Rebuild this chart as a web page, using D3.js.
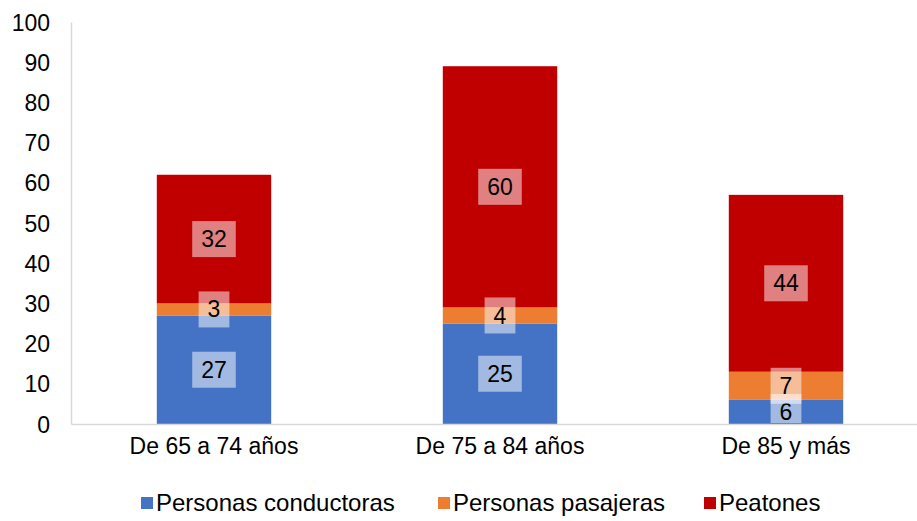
<!DOCTYPE html>
<html>
<head>
<meta charset="utf-8">
<script src="https://cdn.jsdelivr.net/npm/d3@7"></script>
<style>
  body { margin: 0; background: #fff; }
  text { font-family: "Liberation Sans", Arial, sans-serif; fill: #000; }
</style>
</head>
<body>
<svg id="chart" width="917" height="521"></svg>
<script>
var categories = ["De 65 a 74 años", "De 75 a 84 años", "De 85 y más"]
var seriesNames = ["Personas conductoras", "Personas pasajeras", "Peatones"]
var conductoras = [27, 25, 6]
var pasajeras = [3, 4, 7]
var peatones = [32, 60, 44]
var yTicks = [0, 10, 20, 30, 40, 50, 60, 70, 80, 90, 100]
var colors = ["#4472C4", "#ED7D31", "#C00000"]

var svg = d3.select("#chart"),
    plotLeft = 71, plotRight = 929, plotTop = 22, plotBottom = 424

var x = d3.scaleBand().domain(categories).range([plotLeft, plotRight]).padding(0)
var y = d3.scaleLinear().domain([0, 100]).range([plotBottom, plotTop])
var barW = x.bandwidth() * 0.4

var rows = categories.map(function(c, i){
  return { cat: c, "Personas conductoras": conductoras[i], "Personas pasajeras": pasajeras[i], "Peatones": peatones[i] }
})
var stacked = d3.stack().keys(seriesNames)(rows)

svg.append("defs").append("clipPath").attr("id", "plotClip")
  .append("rect").attr("x", plotLeft).attr("y", 0).attr("width", plotRight - plotLeft).attr("height", plotBottom - 1)

// bars
var layers = svg.selectAll(".layer")
  .data(stacked)
  .enter().append("g")
    .attr("class", "layer")
    .attr("fill", function(d, i){ return colors[i] })

layers.selectAll("rect")
  .data(function(d){ return d })
  .enter().append("rect")
    .attr("x", function(d){ return x(d.data.cat) + x.bandwidth()/2 - barW/2 })
    .attr("width", barW)
    .attr("y", function(d){ return y(d[1]) })
    .attr("height", function(d){ return y(d[0]) - y(d[1]) })

// axes
var yAxis = svg.append("g")
  .attr("transform", "translate(" + plotLeft + ",0)")
  .call(d3.axisLeft(y).tickValues(yTicks).tickSize(0).tickPadding(21))
yAxis.select(".domain").attr("stroke", "#d9d9d9").attr("stroke-width", 1.5)
yAxis.selectAll("text").style("font-size", "23px").attr("dy", "0.35em")

var xAxis = svg.append("g")
  .attr("transform", "translate(0," + plotBottom + ")")
  .call(d3.axisBottom(x).tickSize(0).tickPadding(14))
xAxis.select(".domain").attr("stroke", "#d9d9d9").attr("stroke-width", 1.5)
xAxis.selectAll("text").style("font-size", "23px")

// data labels
var labels = svg.append("g").attr("clip-path", "url(#plotClip)")
stacked.forEach(function(layer){
  layer.forEach(function(d){
    var v = d[1] - d[0]
    var cx = x(d.data.cat) + x.bandwidth()/2,
        cy = y((d[0] + d[1]) / 2)
    var g = labels.append("g")
    var box = g.append("rect").attr("fill", "#fff").attr("fill-opacity", 0.5)
    var t = g.append("text")
      .attr("x", cx).attr("y", cy)
      .attr("text-anchor", "middle").attr("dy", "0.35em")
      .style("font-size", "23px")
      .text(v)
    var w = t.node().getComputedTextLength() + 18
    box.attr("x", cx - w/2).attr("y", cy - 18).attr("width", w).attr("height", 36)
  })
})

// legend
var legendX = [141, 438, 704]
var legend = svg.append("g")
seriesNames.forEach(function(name, i){
  legend.append("rect")
    .attr("x", legendX[i]).attr("y", 497)
    .attr("width", 12).attr("height", 12)
    .attr("fill", colors[i])
  legend.append("text")
    .attr("x", legendX[i] + 15).attr("y", 503)
    .attr("dy", "0.35em")
    .style("font-size", "24px")
    .text(name)
})
</script>
</body>
</html>
